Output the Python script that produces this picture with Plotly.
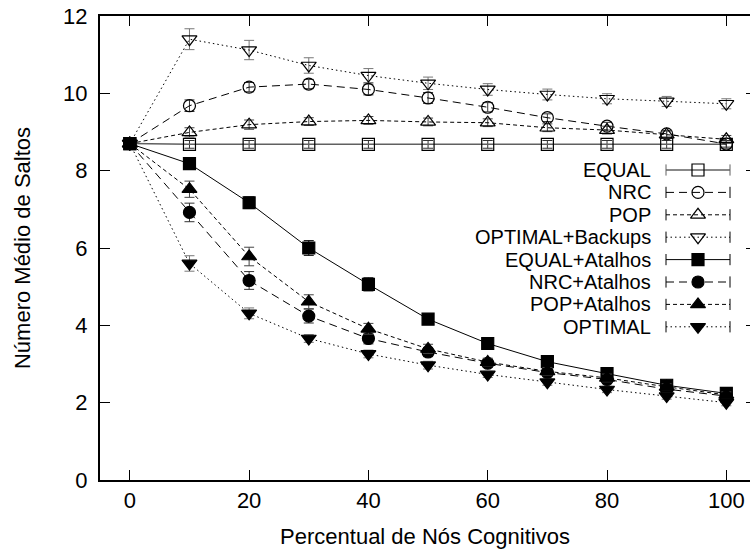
import plotly.graph_objects as go

# Percentual de nós cognitivos (eixo x)
pct = [0, 10, 20, 30, 40, 50, 60, 70, 80, 90, 100]

# Número médio de saltos por estratégia, com erro
equal = [8.7, 8.68, 8.68, 8.68, 8.68, 8.68, 8.68, 8.68, 8.68, 8.68, 8.68]
equal_err = [0, 0.1, 0.1, 0.1, 0.1, 0.1, 0.1, 0.1, 0.1, 0.1, 0.1]
nrc = [8.7, 9.68, 10.16, 10.24, 10.1, 9.88, 9.64, 9.37, 9.15, 8.95, 8.69]
nrc_err = [0, 0.15, 0.12, 0.12, 0.14, 0.14, 0.12, 0.1, 0.1, 0.08, 0.08]
pop = [8.7, 8.99, 9.19, 9.27, 9.3, 9.26, 9.24, 9.11, 9.05, 8.93, 8.81]
pop_err = [0, 0.12, 0.12, 0.1, 0.1, 0.1, 0.1, 0.1, 0.1, 0.1, 0.1]
opt_bk = [8.7, 11.4, 11.12, 10.72, 10.46, 10.26, 10.1, 9.97, 9.86, 9.79, 9.73]
opt_bk_err = [0, 0.27, 0.25, 0.2, 0.18, 0.16, 0.15, 0.14, 0.13, 0.13, 0.13]
equal_at = [8.7, 8.18, 7.17, 6.0, 5.06, 4.16, 3.53, 3.06, 2.75, 2.45, 2.24]
equal_at_err = [0, 0.1, 0.15, 0.19, 0.17, 0.13, 0.1, 0.1, 0.1, 0.08, 0.08]
nrc_at = [8.7, 6.92, 5.16, 4.24, 3.66, 3.31, 3.02, 2.78, 2.6, 2.35, 2.17]
nrc_at_err = [0, 0.24, 0.23, 0.18, 0.14, 0.12, 0.1, 0.1, 0.1, 0.08, 0.08]
pop_at = [8.7, 7.52, 5.78, 4.61, 3.91, 3.39, 3.05, 2.81, 2.64, 2.41, 2.2]
pop_at_err = [0, 0.21, 0.24, 0.18, 0.14, 0.12, 0.1, 0.1, 0.1, 0.08, 0.08]
optimal = [8.7, 5.6, 4.31, 3.66, 3.26, 2.97, 2.73, 2.53, 2.34, 2.17, 2.0]
optimal_err = [0, 0.2, 0.14, 0.1, 0.1, 0.1, 0.08, 0.08, 0.08, 0.08, 0.08]

x_ticks = [0, 20, 40, 60, 80, 100]
y_ticks = [0, 2, 4, 6, 8, 10, 12]

FONT = "Liberation Sans, Arial, Helvetica, sans-serif"
FS = 22
KEY_FS = 20

LONG = "8px,5px"
SHORT = "4px,3px"
DOT = "1.5px,3px"

series = [
    ("EQUAL", equal, equal_err, "square-open", "solid", "#606060", 1.5, "#333"),
    ("NRC", nrc, nrc_err, "circle-open", LONG, "black", 1, "#333"),
    ("POP", pop, pop_err, "triangle-up-open", SHORT, "black", 1, "#444"),
    ("OPTIMAL+Backups", opt_bk, opt_bk_err, "triangle-down-open", DOT, "black", 1, "#777"),
    ("EQUAL+Atalhos", equal_at, equal_at_err, "square", "solid", "black", 1, "black"),
    ("NRC+Atalhos", nrc_at, nrc_at_err, "circle", LONG, "black", 1, "#333"),
    ("POP+Atalhos", pop_at, pop_at_err, "triangle-up", SHORT, "black", 1, "#444"),
    ("OPTIMAL", optimal, optimal_err, "triangle-down", DOT, "black", 1, "#777"),
]

fig = go.Figure()

for name, vals, err, sym, dash, lcolor, lw, ecolor in series:
    size = 13 if "triangle" in sym else 12
    fig.add_trace(go.Scatter(
        x=pct, y=vals, mode="lines+markers", name=name, showlegend=False,
        line=dict(color=lcolor, width=lw, dash=dash),
        marker=dict(symbol=sym, size=size, color="black",
                    line=dict(color="black", width=1.2)),
        error_y=dict(type="data", array=err, visible=True,
                     color=ecolor, thickness=1, width=5),
        xaxis="x", yaxis="y",
    ))

# Invisible trace so the right-hand tick axis renders
fig.add_trace(go.Scatter(x=[None], y=[None], xaxis="x", yaxis="y2",
                         showlegend=False, hoverinfo="skip"))

# Key drawn in layout-pixel units on its own overlay axes
row0, row_step = 170, 22.4
text_right, s0, s1 = 652, 666, 730
for i, (name, vals, err, sym, dash, lcolor, lw, ecolor) in enumerate(series):
    ry = row0 + i * row_step
    size = 13 if "triangle" in sym else 12
    fig.add_trace(go.Scatter(
        x=[s0, s1], y=[ry, ry], mode="lines+markers", showlegend=False,
        line=dict(color=lcolor, width=lw, dash=dash),
        marker=dict(symbol="line-ns", size=8, line=dict(color=lcolor, width=1)),
        xaxis="x3", yaxis="y3", hoverinfo="skip",
    ))
    fig.add_trace(go.Scatter(
        x=[(s0 + s1) / 2], y=[ry], mode="markers", showlegend=False,
        marker=dict(symbol=sym, size=size, color="black",
                    line=dict(color="black", width=1.2)),
        xaxis="x3", yaxis="y3", hoverinfo="skip",
    ))
    fig.add_annotation(x=text_right, y=ry, xref="x3", yref="y3", text=name,
                       showarrow=False, xanchor="right", yanchor="middle",
                       borderpad=0,
                       font=dict(family=FONT, size=KEY_FS, color="black"))

axis_font = dict(family=FONT, size=FS, color="black")

fig.update_layout(
    width=750, height=551,
    margin=dict(l=100, r=0, t=16, b=71),
    paper_bgcolor="white", plot_bgcolor="white",
    font=axis_font,
    xaxis=dict(
        range=[-5, 103.97], tickvals=x_ticks, ticks="inside", ticklen=10,
        tickwidth=1, tickcolor="black", showline=True, linecolor="black",
        linewidth=2, mirror="ticks", showgrid=False, zeroline=False,
        tickfont=axis_font,
        title=dict(text="Percentual de Nós Cognitivos", font=axis_font, standoff=16),
    ),
    yaxis=dict(
        range=[0, 12], tickvals=y_ticks, ticks="inside", ticklen=10,
        tickwidth=1, tickcolor="black", showline=True, linecolor="black",
        linewidth=2, showgrid=False, zeroline=False, tickfont=axis_font,
        ticklabelstandoff=6,
        title=dict(text="Número Médio de Saltos", font=axis_font, standoff=26),
    ),
    yaxis2=dict(
        range=[0, 12], tickvals=y_ticks, overlaying="y", side="right",
        anchor="x", ticks="inside", ticklen=4, tickwidth=1, tickcolor="black",
        showticklabels=False, showline=False, showgrid=False, zeroline=False,
    ),
    xaxis3=dict(range=[100, 750], domain=[0, 1], overlaying="x", visible=False,
                anchor="y3"),
    yaxis3=dict(range=[480, 16], domain=[0, 1], overlaying="y", visible=False,
                anchor="x3"),
)

fig.write_html("out.html")
